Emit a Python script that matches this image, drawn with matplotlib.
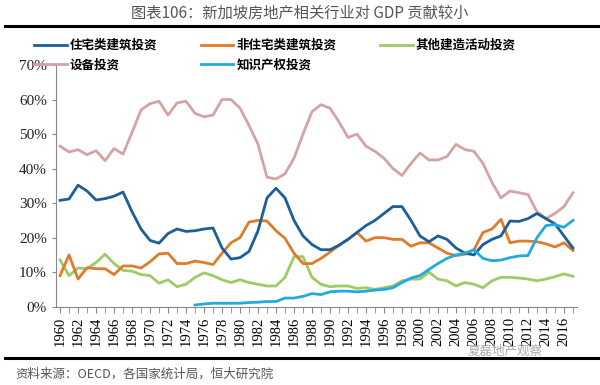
import matplotlib
matplotlib.use("Agg")
import matplotlib.pyplot as plt
from matplotlib.ticker import PercentFormatter
from matplotlib.lines import Line2D

plt.rcParams['font.family'] = ['Noto Sans CJK SC', 'DejaVu Sans']

# data (share of GDP contribution, %)
years = list(range(1960, 2018))

residential = [30.8, 31.2, 35.2, 33.5, 30.9, 31.3, 32.0, 33.2, 27.5, 22.5,
               19.2, 18.4, 21.2, 22.5, 21.8, 22.0, 22.5, 22.8, 17.0, 13.8,
               14.2, 16.0, 22.0, 31.5, 34.3, 31.5, 25.0, 20.5, 18.0, 16.5,
               16.5, 17.8, 19.5, 21.5, 23.5, 25.0, 27.0, 29.0, 29.0, 25.0,
               20.5, 18.8, 20.5, 19.5, 17.0, 15.5, 15.0, 18.0, 19.5, 20.5,
               24.8, 24.7, 25.5, 27.0, 25.5, 24.0, 20.5, 17.0]

non_residential = [9.0, 15.0, 8.0, 11.3, 11.0, 11.0, 9.3, 11.8, 11.8, 11.2,
                   13.0, 15.3, 15.5, 12.5, 12.5, 13.2, 12.8, 12.2, 15.5, 18.5,
                   20.0, 24.5, 25.0, 24.8, 22.0, 19.8, 15.5, 12.5, 12.5, 14.0,
                   15.8, 17.8, 19.5, 21.5, 19.0, 20.0, 20.0, 19.5, 19.5, 17.5,
                   18.5, 18.5, 17.0, 15.5, 14.8, 15.2, 16.5, 21.5, 22.5, 25.3,
                   18.5, 19.0, 19.0, 18.8, 18.2, 17.3, 18.5, 16.3]

other_construction = [13.5, 9.0, 11.2, 11.0, 12.8, 15.2, 12.5, 10.5, 10.3, 9.3,
                      9.0, 6.8, 7.8, 5.8, 6.5, 8.5, 9.8, 9.0, 7.8, 7.0,
                      7.8, 7.0, 6.5, 6.0, 6.0, 8.5, 14.5, 14.5, 8.5, 6.5,
                      5.8, 6.0, 6.0, 5.3, 5.5, 5.0, 5.5, 6.0, 7.5, 8.0,
                      8.0, 10.0, 8.0, 7.5, 6.0, 7.0, 6.5, 5.5, 7.5, 8.5,
                      8.5, 8.3, 8.0, 7.5, 8.0, 8.7, 9.5, 8.8]

equipment = [46.5, 44.8, 45.5, 44.0, 45.2, 42.3, 45.8, 44.2, 50.5, 57.0,
             58.8, 59.5, 55.5, 59.0, 59.5, 56.0, 55.0, 55.5, 60.0, 60.0,
             57.5, 52.5, 47.0, 37.5, 37.0, 38.5, 43.0, 50.0, 56.5, 58.5,
             57.5, 53.5, 49.0, 50.0, 46.5, 45.0, 43.0, 40.0, 38.0, 41.5,
             44.5, 42.5, 42.5, 43.5, 47.0, 45.5, 45.0, 41.5, 36.0, 31.5,
             33.5, 33.0, 32.5, 27.5, 25.5, 27.0, 29.0, 33.0]

ip_years = list(range(1975, 2018))
ip = [0.5, 0.8, 1.0, 1.0, 1.0, 1.0, 1.2, 1.3, 1.5, 1.5,
      2.5, 2.5, 3.0, 3.8, 3.5, 4.3, 4.5, 4.5, 4.3, 4.5,
      4.8, 5.0, 5.5, 7.0, 8.3, 9.0, 10.8, 12.5, 14.0, 15.0,
      15.5, 16.5, 14.0, 13.3, 13.5, 14.2, 14.7, 14.8, 20.0, 23.5,
      23.8, 23.0, 25.0]

c_res = '#1b5e99'
c_nonres = '#e07b2a'
c_other = '#9ccc65'
c_equip = '#d4a3a6'
c_ip = '#22aade'

fig = plt.figure(figsize=(6, 3.85), dpi=100)
ax = fig.add_axes([56/600, 1 - 306.7/385, (577 - 56)/600, (306.7 - 65)/385])

lw = 2.0
ax.plot(years, equipment, color=c_equip, lw=lw)
ax.plot(years, other_construction, color=c_other, lw=lw)
ax.plot(years, non_residential, color=c_nonres, lw=lw)
ax.plot(years, residential, color=c_res, lw=lw)
ax.plot(ip_years, ip, color=c_ip, lw=lw)

ax.set_xlim(1959.55, 2017.45)
ax.set_ylim(0, 70)
ax.set_yticks(range(0, 71, 10))
ax.yaxis.set_major_formatter(PercentFormatter(decimals=0))
ax.set_xticks(range(1960, 2017, 2))
ax.set_xticks(range(1960, 2018), minor=True)
ax.tick_params(axis='x', which='both', direction='out', length=4, color='#888888',
               labelrotation=90, labelsize=10.5, labelfontfamily='Liberation Serif')
ax.tick_params(axis='y', direction='out', length=3, color='#888888',
               labelsize=11, labelfontfamily='Liberation Serif', labelcolor='#222222')
for s in ['top', 'right']:
    ax.spines[s].set_visible(False)
for s in ['left', 'bottom']:
    ax.spines[s].set_color('#888888')

# legend (row-major order in the picture)
handles = [Line2D([], [], color=c_res, lw=lw), Line2D([], [], color=c_equip, lw=lw),
           Line2D([], [], color=c_nonres, lw=lw), Line2D([], [], color=c_ip, lw=lw),
           Line2D([], [], color=c_other, lw=lw)]
labels = ['住宅类建筑投资', '设备投资', '非住宅类建筑投资', '知识产权投资', '其他建造活动投资']
fig.legend(handles, labels, ncol=3, loc='upper left', bbox_to_anchor=(34/600, 1 - 39/385),
           frameon=False, prop={'family': 'Noto Sans CJK SC', 'weight': 'bold', 'size': 9},
           handlelength=2.6, handletextpad=0.25, columnspacing=3.5, labelspacing=0.5,
           borderaxespad=0, borderpad=0)

fig.text(0.5, 1 - 13/385, '图表106：新加坡房地产相关行业对 GDP 贡献较小', ha='center', va='center',
         fontsize=11, color='#555555')
fig.add_artist(Line2D([5/600, 598/600], [1 - 26/385, 1 - 26/385], color='black', lw=2.2))
fig.add_artist(Line2D([5/600, 598/600], [1 - 358/385, 1 - 358/385], color='black', lw=2.2))
fig.text(15/600, 1 - 374/385, '资料来源：OECD，各国家统计局，恒大研究院', ha='left', va='center',
         fontsize=9, color='#555555')
fig.text(505/600, 1 - 351/385, '夏磊地产观察', ha='center', va='center', fontsize=9, color='#aaaaaa')

fig.savefig('out.png', dpi=100)
